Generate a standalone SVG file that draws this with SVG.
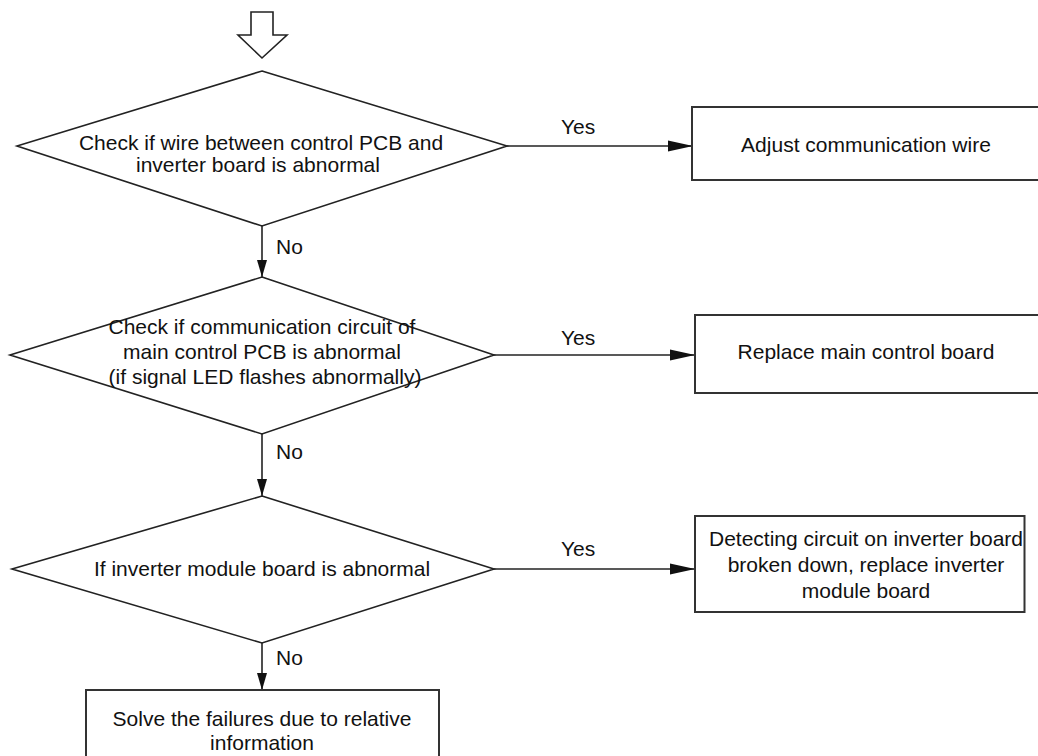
<svg xmlns="http://www.w3.org/2000/svg" width="1038" height="756" viewBox="0 0 1038 756">
  <defs>
    <style>
      .shape { fill: #ffffff; stroke: #222222; stroke-width: 1.6; }
      .box { fill: #ffffff; stroke: #333333; stroke-width: 2; }
      .conn { fill: none; stroke: #222222; stroke-width: 1.6; }
      .t { font-family: "Liberation Sans", Arial, sans-serif; font-size: 21px; fill: #111111; text-anchor: middle; }
      .lbl { font-family: "Liberation Sans", Arial, sans-serif; font-size: 21px; fill: #111111; }
    </style>
    <marker id="ah" markerUnits="userSpaceOnUse" markerWidth="26" markerHeight="12" refX="25" refY="6" orient="auto" viewBox="0 0 26 12">
      <path d="M0,0.5 L25,6 L0,11.5 z" fill="#111111"/>
    </marker>
    <marker id="av" markerUnits="userSpaceOnUse" markerWidth="18" markerHeight="11" refX="17" refY="5.5" orient="auto" viewBox="0 0 18 11">
      <path d="M0,0.5 L17,5.5 L0,10.5 z" fill="#111111"/>
    </marker>
  </defs>

  <g id="start">
    <polygon class="shape" points="251,12 273,12 273,35 287,35 262,58 238,35 251,35"/>
  </g>

  <g id="connectors">
    <line class="conn" x1="262" y1="226" x2="262" y2="277" marker-end="url(#av)"/>
    <line class="conn" x1="262" y1="434" x2="262" y2="496" marker-end="url(#av)"/>
    <line class="conn" x1="262" y1="643" x2="262" y2="690" marker-end="url(#av)"/>
    <line class="conn" x1="507" y1="146" x2="693" y2="146" marker-end="url(#ah)"/>
    <line class="conn" x1="494" y1="355" x2="695" y2="355" marker-end="url(#ah)"/>
    <line class="conn" x1="494" y1="569" x2="695" y2="569" marker-end="url(#ah)"/>
    <text class="lbl" x="561" y="134">Yes</text>
    <text class="lbl" x="561" y="345">Yes</text>
    <text class="lbl" x="561" y="556">Yes</text>
    <text class="lbl" x="276" y="254">No</text>
    <text class="lbl" x="276" y="459">No</text>
    <text class="lbl" x="276" y="665">No</text>
  </g>

  <g id="decision1">
    <polygon class="shape" points="262,71 507,146 262,226 17,146"/>
    <text class="t" x="261" y="150">Check if wire between control PCB and</text>
    <text class="t" x="258" y="172">inverter board is abnormal</text>
  </g>

  <g id="action1">
    <rect class="box" x="692" y="107" width="360" height="73"/>
    <text class="t" x="866" y="152">Adjust communication wire</text>
  </g>

  <g id="decision2">
    <polygon class="shape" points="262,277 494,355 262,434 10,355"/>
    <text class="t" x="262" y="334">Check if communication circuit of</text>
    <text class="t" x="262" y="359">main control PCB is abnormal</text>
    <text class="t" x="265" y="384">(if signal LED flashes abnormally)</text>
  </g>

  <g id="action2">
    <rect class="box" x="695" y="315" width="360" height="78"/>
    <text class="t" x="866" y="359">Replace main control board</text>
  </g>

  <g id="decision3">
    <polygon class="shape" points="262,496 494,569 262,643 12,569"/>
    <text class="t" x="262" y="576">If inverter module board is abnormal</text>
  </g>

  <g id="action3">
    <rect class="box" x="695" y="516" width="329.5" height="96"/>
    <text class="t" x="866" y="546">Detecting circuit on inverter board</text>
    <text class="t" x="866" y="572">broken down, replace inverter</text>
    <text class="t" x="866" y="598">module board</text>
  </g>

  <g id="final">
    <rect class="box" x="86" y="690" width="353" height="80"/>
    <text class="t" x="262" y="726">Solve the failures due to relative</text>
    <text class="t" x="262" y="750">information</text>
  </g>
</svg>
